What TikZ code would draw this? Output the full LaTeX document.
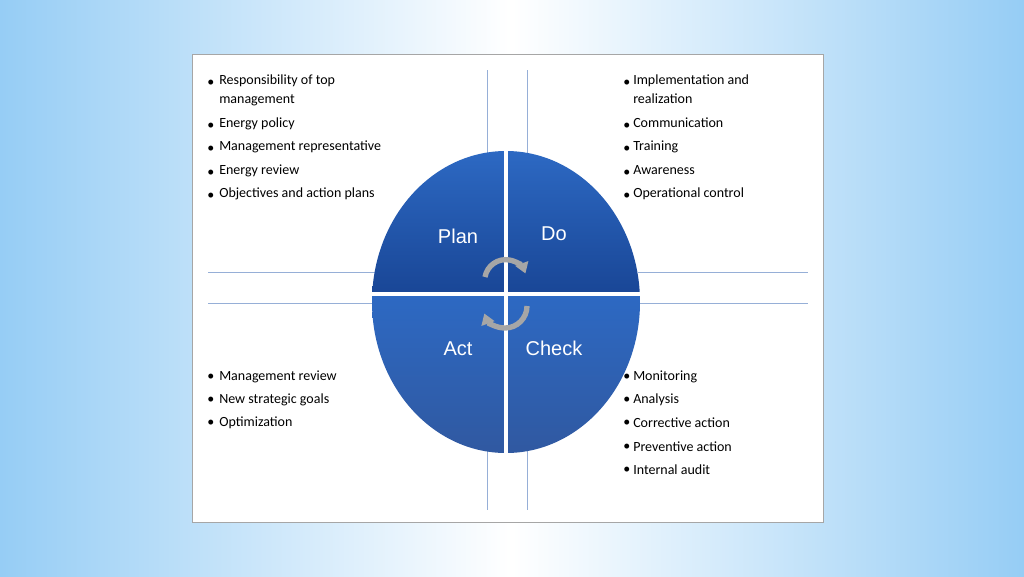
\documentclass[tikz,border=0pt]{standalone}
\usepackage{fontspec}
\setmainfont{Carlito}
\newfontfamily\labelfont{Liberation Sans}
\usetikzlibrary{arrows.meta}
\begin{document}
\begin{tikzpicture}[x=0.75pt,y=-0.75pt]
    \definecolor{bg-blue}{RGB}{150,205,245}
    \definecolor{pdca-top}{RGB}{45,105,195}
    \definecolor{pdca-bot}{RGB}{25,70,150}
    \definecolor{guide}{RGB}{150,175,215}
    \tikzset{
      item/.style={anchor=west, font=\fontsize{10.5}{14}\selectfont, align=left, inner sep=0pt},
      phase/.style={text=white, font=\labelfont\fontsize{15}{18}\selectfont},
      guideline/.style={draw=guide, line width=0.6pt},
      cycle/.style={draw=gray!70, line width=4pt, -{Triangle[length=8pt,width=10pt]}}
    }
    \useasboundingbox (0,0) rectangle (1024,576);
    % background
    \shade[left color=bg-blue, right color=white] (0,0) rectangle (512,576);
    \shade[left color=white, right color=bg-blue] (512,0) rectangle (1024,576);
    \fill[white] (192,54) rectangle (823,522);
    \draw[gray!70, line width=0.6pt] (192,54) rectangle (823,522);
    % guide lines
    \draw[guideline] (487,70) -- (487,160);
    \draw[guideline] (527,70) -- (527,160);
    \draw[guideline] (487,450) -- (487,510);
    \draw[guideline] (527,450) -- (527,510);
    \draw[guideline] (208,272) -- (375,272);
    \draw[guideline] (208,303) -- (375,303);
    \draw[guideline] (638,272) -- (808,272);
    \draw[guideline] (638,303) -- (808,303);
    % circle
    \begin{scope}
      \clip (506,302) ellipse (134 and 151);
      \shade[top color=pdca-top, bottom color=pdca-bot] (372,150) rectangle (640,294);
      \shade[top color=pdca-top, bottom color=pdca-bot!90] (372,294) rectangle (640,454);
    \end{scope}
    \draw[white, line width=3pt] (506,146) -- (506,458);
    \draw[white, line width=3pt] (368,294) -- (644,294);
    \node[phase] (plan) at (458,236) {Plan};
    \node[phase] (do) at (554,234) {Do};
    \node[phase] (act) at (458,349) {Act};
    \node[phase] (check) at (554,348) {Check};
    \draw[cycle] (485,277) arc (190:340:21);
    \draw[cycle] (527,306) arc (0:160:22);
    % lists
    \foreach \y/\t [count=\i] in {83/{Responsibility of top\\management}, 126/Energy policy,
        149/Management representative, 173/Energy review, 196/Objectives and action plans} {
      \node[item] (pb\i) at (207,\y) {\textbullet};
      \node[item, anchor=north west] (p\i) at (219,\y-8) {\t};
    }
    \foreach \y/\t [count=\i] in {83/{Implementation and\\realization}, 126/Communication,
        149/Training, 173/Awareness, 196/Operational control} {
      \node[item] (db\i) at (623,\y) {\textbullet};
      \node[item, anchor=north west] (d\i) at (633,\y-8) {\t};
    }
    \foreach \y/\t [count=\i] in {377/Management review, 400/New strategic goals, 423/Optimization} {
      \node[item] (ab\i) at (207,\y) {\textbullet};
      \node[item] (a\i) at (219,\y) {\t};
    }
    \foreach \y/\t [count=\i] in {377/Monitoring, 400/Analysis, 423/Corrective action,
        447/Preventive action, 470/Internal audit} {
      \node[item] (cb\i) at (623,\y) {\textbullet};
      \node[item] (c\i) at (633,\y) {\t};
    }
\end{tikzpicture}
\end{document}
